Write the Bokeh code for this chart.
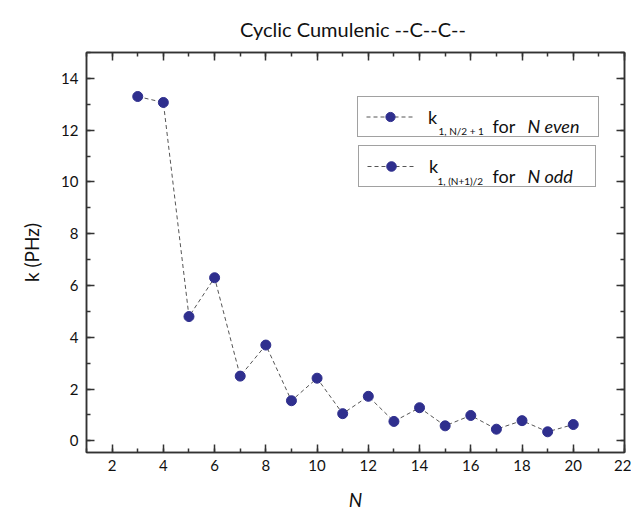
from bokeh.plotting import figure
from bokeh.models import (LinearAxis, SingleIntervalTicker, Label, Legend, LegendItem,
                          ColumnDataSource)
from bokeh.embed import file_html
from bokeh.resources import INLINE

# ---- data ----
N = [3, 4, 5, 6, 7, 8, 9, 10, 11, 12, 13, 14, 15, 16, 17, 18, 19, 20]
k = [13.3, 13.07, 4.8, 6.3, 2.5, 3.7, 1.55, 2.42, 1.05, 1.72, 0.75, 1.28,
     0.58, 0.98, 0.45, 0.78, 0.35, 0.63]
title_text = "Cyclic Cumulenic  --C--C--"
x_label = "N"
y_label = "k (PHz)"

FONT = "Lato"
DOT = "#2f2f8e"
AX = "#333333"

X0, X1 = 1, 22
Y0, Y1 = -0.45, 15
FL, FT, FW, FH = 86, 52, 538, 400   # frame left/top/width/height in px

p = figure(width=631, height=514, x_range=(X0, X1), y_range=(Y0, Y1),
           output_backend="svg", toolbar_location=None,
           min_border_left=FL, min_border_right=631 - FL - FW,
           min_border_top=FT, min_border_bottom=514 - FT - FH)
p.background_fill_color = "white"
p.border_fill_color = "white"
p.outline_line_color = AX
p.outline_line_width = 1.5
p.grid.visible = False

p.title.text = title_text
p.title.align = "center"
p.title.text_font = FONT
p.title.text_font_size = "20px"
p.title.text_font_style = "normal"
p.title.text_color = "#111111"
p.title.standoff = 24

src = ColumnDataSource(dict(N=N, k=k))
line_r = p.line("N", "k", source=src, line_color="#555555", line_width=1, line_dash="4 3")
dot_r = p.scatter("N", "k", source=src, size=10, fill_color=DOT, line_color=DOT)

xt = SingleIntervalTicker(interval=2, num_minor_ticks=2)
yt = SingleIntervalTicker(interval=2, num_minor_ticks=2)

def style(ax, labels=True):
    ax.axis_line_color = AX
    ax.axis_line_width = 1.5
    ax.major_tick_line_color = AX
    ax.minor_tick_line_color = AX
    ax.major_tick_line_width = 1.5
    ax.minor_tick_line_width = 1.5
    ax.major_tick_in = 8
    ax.major_tick_out = 0
    ax.minor_tick_in = 4
    ax.minor_tick_out = 0
    if labels:
        ax.major_label_text_font = FONT
        ax.major_label_text_font_size = "15px"
        ax.major_label_text_color = "#111111"
        ax.axis_label_text_font = FONT
        ax.axis_label_text_font_size = "19px"
        ax.axis_label_text_color = "#111111"
    else:
        ax.major_label_text_font_size = "0px"
        ax.major_label_text_color = None
        ax.major_label_standoff = 0

p.xaxis.ticker = xt
p.yaxis.ticker = yt
p.xaxis.axis_label = x_label
p.yaxis.axis_label = y_label
style(p.xaxis[0])
style(p.yaxis[0])
p.xaxis.major_label_standoff = 7
p.yaxis.major_label_standoff = 8
p.xaxis.axis_label_standoff = 14
p.yaxis.axis_label_standoff = 15
p.xaxis.axis_label_text_font_style = "italic"
p.yaxis.axis_label_text_font_style = "normal"

top = LinearAxis(ticker=xt)
right = LinearAxis(ticker=yt)
style(top, False)
style(right, False)
p.add_layout(top, "above")
p.add_layout(right, "right")

# ---- legends (layout helpers: pixel -> data) ----
def px2x(px):
    return X0 + (px - FL) / FW * (X1 - X0)

def py2y(py):
    return Y1 - (py - FT) / FH * (Y1 - Y0)

boxes = [(357, 98, 597, 137), (358, 147, 594, 187)]
PAD = 8
GW = 48
for (l, t, r, b) in boxes:
    lw = (r - l) - 2 * PAD - GW - 14
    leg = Legend(items=[LegendItem(label="k", renderers=[line_r, dot_r])],
                 location=(l - FL, (FT + FH) - b),
                 padding=PAD, margin=0, spacing=0,
                 glyph_width=GW, glyph_height=(b - t) - 2 * PAD,
                 label_width=lw, label_height=(b - t) - 2 * PAD, label_standoff=14,
                 label_text_font=FONT, label_text_font_size="18px",
                 label_text_color="#111111",
                 border_line_color="#444444", border_line_width=1.2,
                 background_fill_alpha=0.0)
    p.add_layout(leg, "center")

leg_texts = [
    [("1, N/2 + 1", 438, 130, 10, "normal"),
     ("for", 492, 125, 18, "normal"), ("N even", 527, 125, 18, "italic")],
    [("1, (N+1)/2", 437, 180, 10, "normal"),
     ("for", 492, 175, 18, "normal"), ("N odd", 527, 175, 18, "italic")],
]
for row in leg_texts:
    for (txt, px, py, fs, st) in row:
        p.add_layout(Label(x=px2x(px), y=py2y(py), text=txt, text_font=FONT,
                           text_font_size=f"{fs}px", text_font_style=st,
                           text_color="#111111", text_align="left",
                           text_baseline="alphabetic", level="overlay"))

open("out.html", "w").write(file_html(p, INLINE))
